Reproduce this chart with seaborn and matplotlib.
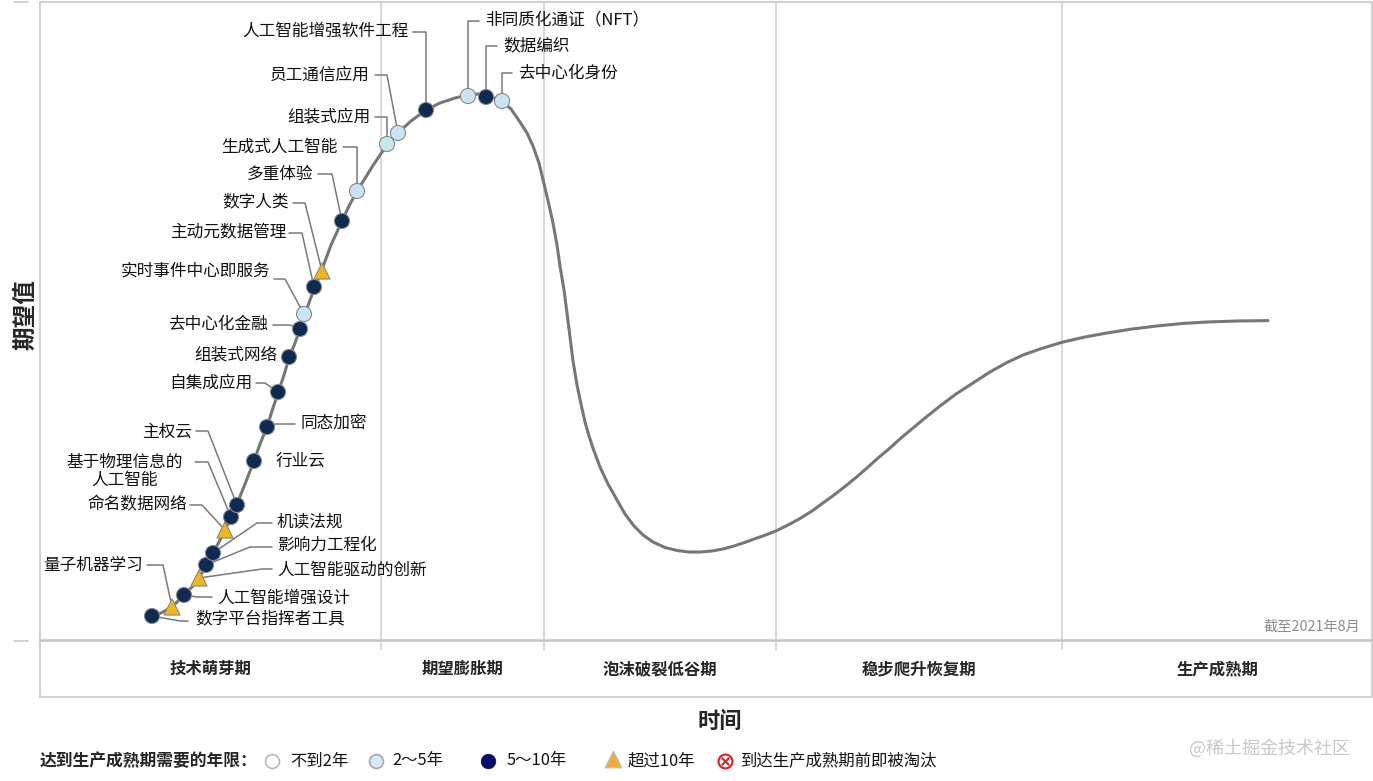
import matplotlib.pyplot as plt
import seaborn as sns
import pandas as pd
from matplotlib.patches import Rectangle

# hype curve (time, expectation)
curve_t = [110, 121, 132, 144, 152, 159, 166, 173, 179, 185, 191, 197, 205, 214, 220, 227,
           232, 238, 244, 249, 255, 260, 265, 270, 275, 281, 291, 302, 309, 317, 324, 332,
           340, 347, 358, 371, 386, 400, 415, 428, 438, 446, 454, 462, 471, 480, 487, 493,
           499, 505, 509, 513, 517, 520, 524, 527, 530, 533, 537, 541, 545, 549, 554, 560,
           568, 577, 585, 594, 603, 613, 625, 637, 649, 660, 672, 683, 694, 706, 717, 727,
           737, 749, 760, 772, 783, 794, 805, 816, 827, 838, 850, 861, 873, 885, 900, 916,
           933, 950, 967, 983, 1000, 1023, 1045, 1067, 1092, 1117, 1142, 1167, 1197, 1228]
curve_e = [23, 27, 33, 45, 53, 62, 74, 87, 98, 110, 123, 136, 156, 179, 196, 213,
           229, 247, 265, 282, 297, 311, 326, 340, 353, 368, 395, 419, 434, 449, 460, 473,
           485, 495, 507, 519, 530, 537, 542, 545, 546, 544.5, 542, 539, 531, 518, 507, 494,
           477, 452, 435, 417, 395, 374, 350, 327, 303, 279, 255, 236, 218, 204, 189, 173,
           156, 140, 126, 114, 105, 98, 92.5, 89.5, 88, 88, 89, 91, 94, 98, 102, 105.5,
           109.5, 115.5, 121.5, 129, 137, 145, 153.5, 162.5, 172, 182, 192, 202, 212, 222, 234, 246,
           257, 268, 277.5, 285, 291, 298, 303, 307, 311, 314, 316.5, 318, 319, 319.4]

tech_names = ["数字平台指挥者工具", "量子机器学习", "人工智能增强设计", "人工智能驱动的创新",
              "影响力工程化", "机读法规", "命名数据网络", "基于物理信息的\n人工智能", "主权云",
              "行业云", "同态加密", "自集成应用", "组装式网络", "去中心化金融",
              "实时事件中心即服务", "主动元数据管理", "数字人类", "多重体验", "生成式人工智能",
              "组装式应用", "员工通信应用", "人工智能增强软件工程", "非同质化通证（NFT）",
              "数据编织", "去中心化身份"]
tech_t = [112, 132, 144, 159, 166, 173, 185, 191, 197, 214, 227, 238, 249, 260,
          264, 274, 282, 302, 317, 347, 358, 386, 428, 446, 462]
tech_e = [24, 33, 45, 62, 75, 87, 110, 123, 135, 179, 213, 248, 283, 311,
          326, 353, 369, 419, 449, 496, 507, 530, 544, 543, 539]
tech_years = ["5～10年", "超过10年", "5～10年", "超过10年", "5～10年", "5～10年", "超过10年",
              "5～10年", "5～10年", "5～10年", "5～10年", "5～10年", "5～10年", "5～10年",
              "2～5年", "5～10年", "超过10年", "5～10年", "2～5年", "2～5年", "2～5年",
              "5～10年", "2～5年", "5～10年", "2～5年"]

phase_names = ["技术萌芽期", "期望膨胀期", "泡沫破裂低谷期", "稳步爬升恢复期", "生产成熟期"]
phase_edges = [0, 341, 504, 736, 1022, 1332]

legend_labels = ["不到2年", "2～5年", "5～10年", "超过10年", "到达生产成熟期前即被淘汰"]

# label layout: text x, text y, ha, leader start x, leader y, elbow x
label_layout = [
    (155, 20, "left", 148, 19, 140),
    (103, 75, "right", 107, 75, 123),
    (177, 42, "left", 172, 43, 157),
    (237, 70, "left", 232, 71, 222),
    (237, 95, "left", 232, 93, 210),
    (237, 118, "left", 232, 117, 217),
    (147, 135, "right", 150, 135, 162),
    (143, 169, "right", 155, 178, 168),
    (152, 208, "right", 156, 209, 168),
    (236, 179, "left", None, None, None),
    (261, 217, "left", 255, 216, 235),
    (212, 257, "right", 216, 257, 225),
    (237, 285, "right", None, None, None),
    (228, 316, "right", 233, 315, 250),
    (230, 369, "right", 234, 361, 245),
    (246, 407, "right", 249, 407, 262),
    (249, 438, "right", 253, 437, 265),
    (273, 466, "right", 278, 466, 292),
    (298, 493, "right", 303, 493, 317),
    (330, 523, "right", 335, 523, 347),
    (330, 565, "right", 335, 565, 347),
    (369, 609, "right", 373, 608, 386),
    (445, 620, "left", 439, 619, 428),
    (463, 594, "left", 457, 594, 446),
    (478, 567, "left", 472, 567, 462),
]

NAVY = "#0c2a52"
LIGHT = "#c8e6f2"
AMBER = "#f2b51c"
GRID = "#d2d2d2"
LINE = "#777777"


def main():
    sns.set_style("white")
    plt.rcParams["font.family"] = ["Noto Sans CJK SC", "DejaVu Sans"]

    fig = plt.figure(figsize=(13.73, 7.81), dpi=100)
    W, H = 1373, 781

    # overlay in pixel space for legend / decorations
    lax = fig.add_axes([0, 0, 1, 1])
    lax.set_xlim(0, W)
    lax.set_ylim(H, 0)
    lax.axis("off")

    ax = fig.add_axes([40 / W, (H - 640) / H, 1332 / W, 638 / H])
    ax.set_xlim(0, 1332)
    ax.set_ylim(0, 638)
    ax.axis("off")
    ax.patch.set_alpha(0)

    # frame + phase band
    ax.add_patch(Rectangle((0, -57), 1332, 695, fill=False, ec=GRID, lw=1.5, clip_on=False))
    ax.plot([0, 1332], [0, 0], color="#c4c4c4", lw=1.8, clip_on=False)
    ax.vlines(phase_edges[1:-1], -10, 638, color=GRID, lw=1.2, clip_on=False, zorder=0)
    for i, name in enumerate(phase_names):
        ax.text((phase_edges[i] + phase_edges[i + 1]) / 2, -29, name, ha="center", va="center",
                fontsize=11.8, fontweight="bold", clip_on=False)

    for y in (641, 2):
        lax.plot([14, 28], [y, y], color="#cccccc", lw=1.2)

    # curve
    sns.lineplot(x=curve_t, y=curve_e, sort=False, estimator=None, color=LINE, lw=2.2,
                 solid_joinstyle="round", ax=ax, zorder=2)

    # leaders and labels
    for i, (tx, ty, ha, sx, sy, ex) in enumerate(label_layout):
        if sx is not None:
            ax.plot([sx, ex, tech_t[i]], [sy, sy, tech_e[i]], color="#7a7a7a", lw=1.1, zorder=3)
        ax.text(tx, ty, tech_names[i], ha=ha, va="center", fontsize=12, multialignment="center",
                linespacing=1.1, color="#111111", zorder=4)

    df = pd.DataFrame({"t": tech_t, "e": tech_e, "years": tech_years})
    sns.scatterplot(data=df, x="t", y="e", hue="years", style="years", size="years",
                    palette={"2～5年": LIGHT, "5～10年": NAVY, "超过10年": AMBER},
                    markers={"2～5年": "o", "5～10年": "o", "超过10年": "^"},
                    sizes={"2～5年": 118, "5～10年": 118, "超过10年": 135},
                    edgecolor="#8a8a8a", linewidth=0.8, legend=False, ax=ax, zorder=5)

    ax.text(1320, 13, "截至2021年8月", ha="right", va="center", fontsize=10.3, color="#8c8c8c")

    # axis titles
    fig.text(25 / W, 1 - 315 / H, "期望值", rotation=90, ha="center", va="center",
             fontsize=17, fontweight="bold")
    fig.text(720 / W, 1 - 721 / H, "时间", ha="center", va="center", fontsize=16, fontweight="bold")

    # legend row
    ly = 761
    lax.text(40, ly, "达到生产成熟期需要的年限：", ha="left", va="center", fontsize=12.1, fontweight="bold")
    lax.scatter([272], [ly], s=100, facecolor="white", edgecolor="#b8b8b8", lw=1.2)
    lax.scatter([376], [ly], s=100, facecolor="#d2eaf8", edgecolor="#a8a8a8", lw=1.2)
    lax.scatter([488], [ly], s=110, facecolor="#0b0b6e", edgecolor="#0b0b6e", lw=0.5)
    lax.scatter([613], [ly - 2], s=140, marker="^", facecolor="#f0ad33", edgecolor="#bdbdbd", lw=1.0)
    lax.scatter([725], [ly], s=100, facecolor="white", edgecolor="#e02020", lw=1.5)
    lax.scatter([725], [ly], s=30, marker="x", color="#e02020", lw=1.5)
    for x, lab in zip([290, 392, 507, 628, 740], legend_labels):
        lax.text(x, ly, lab, ha="left", va="center", fontsize=11.8, color="#111111")

    lax.text(1270, 748, "@稀土掘金技术社区", ha="center", va="center", fontsize=13, color="#c8c8c8")

    fig.savefig("out.png", dpi=100)


if __name__ == "__main__":
    main()
